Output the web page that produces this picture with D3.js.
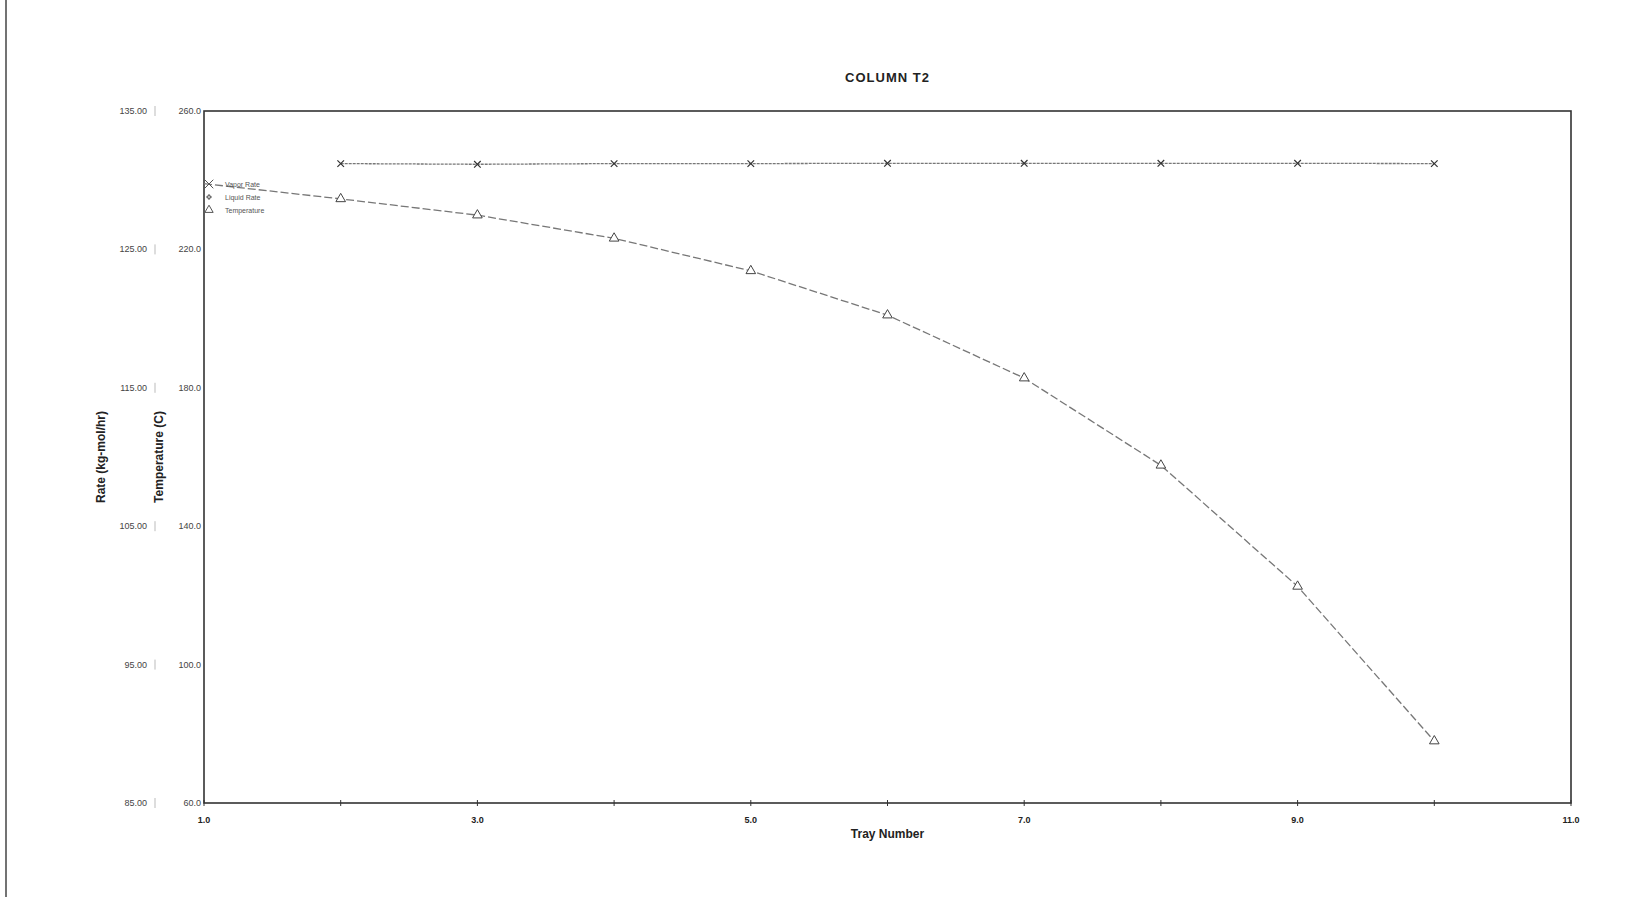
<!DOCTYPE html>
<html>
<head>
<meta charset="utf-8">
<script src="https://cdn.jsdelivr.net/npm/d3@7"></script>
<style>
  body { margin: 0; background: #fff; }
  text { font-family: "Liberation Sans", Arial, sans-serif; fill: #222; }
</style>
</head>
<body>
<div id="chart"></div>
<script>
var svgWidth = 1652;
var svgHeight = 897;

var margin = { top: 111, right: 81, bottom: 94, left: 204 };
var width = svgWidth - margin.left - margin.right;
var height = svgHeight - margin.top - margin.bottom;

// data
var trays = [1, 2, 3, 4, 5, 6, 7, 8, 9, 10];
var temperature = [239.0, 234.6, 229.9, 223.2, 213.8, 201.0, 182.8, 157.6, 122.6, 77.9];
var vaporTrays = [2, 3, 4, 5, 6, 7, 8, 9, 10];
var vaporRate = [131.2, 131.15, 131.2, 131.2, 131.22, 131.22, 131.22, 131.22, 131.2];
var xTickLabels = [1, 3, 5, 7, 9, 11];
var rateTicks = [85, 95, 105, 115, 125, 135];
var tempTicks = [60, 100, 140, 180, 220, 260];
var legendNames = ["Vapor Rate", "Liquid Rate", "Temperature"];

var svg = d3.select("#chart")
  .append("svg")
  .attr("width", svgWidth)
  .attr("height", svgHeight);

// page edge from the scan
svg.append("line")
  .attr("x1", 6).attr("x2", 6)
  .attr("y1", 0).attr("y2", svgHeight)
  .attr("stroke", "#444").attr("stroke-width", 1.5);

var chartGroup = svg.append("g")
  .attr("transform", `translate(${margin.left}, ${margin.top})`);

var xScale = d3.scaleLinear().domain([1, 11]).range([0, width]);
var rateScale = d3.scaleLinear().domain([85, 135]).range([height, 0]);
var tempScale = d3.scaleLinear().domain([60, 260]).range([height, 0]);

// plot frame
chartGroup.append("rect")
  .attr("width", width).attr("height", height)
  .attr("fill", "none").attr("stroke", "#333").attr("stroke-width", 1.6);

// x ticks: marks every tray, labels on odd
chartGroup.selectAll(".xtick")
  .data(d3.range(1, 12))
  .enter().append("line")
  .attr("x1", d => xScale(d)).attr("x2", d => xScale(d))
  .attr("y1", height - 3).attr("y2", height + 3)
  .attr("stroke", "#333");

chartGroup.selectAll(".xlab")
  .data(xTickLabels)
  .enter().append("text")
  .attr("x", d => xScale(d))
  .attr("y", height + 20)
  .attr("text-anchor", "middle")
  .style("font-size", "9px")
  .style("font-weight", "bold")
  .text(d => d.toFixed(1));

// left axes labels
chartGroup.selectAll(".rlab")
  .data(rateTicks)
  .enter().append("text")
  .attr("x", -57)
  .attr("y", d => rateScale(d) + 3)
  .attr("text-anchor", "end")
  .style("font-size", "9px")
  .style("fill", "#444")
  .text(d => d.toFixed(2));

chartGroup.selectAll(".rsep")
  .data(rateTicks)
  .enter().append("line")
  .attr("x1", -49).attr("x2", -49)
  .attr("y1", d => rateScale(d) - 5).attr("y2", d => rateScale(d) + 5)
  .attr("stroke", "#bbb");

chartGroup.selectAll(".tlab")
  .data(tempTicks)
  .enter().append("text")
  .attr("x", -3)
  .attr("y", d => tempScale(d) + 3)
  .attr("text-anchor", "end")
  .style("font-size", "9px")
  .style("fill", "#444")
  .text(d => d.toFixed(1));

// axis titles
chartGroup.append("text")
  .attr("transform", `translate(-99, ${height / 2}) rotate(-90)`)
  .attr("text-anchor", "middle")
  .style("font-size", "12px")
  .style("font-weight", "bold")
  .text("Rate (kg-mol/hr)");

chartGroup.append("text")
  .attr("transform", `translate(-41, ${height / 2}) rotate(-90)`)
  .attr("text-anchor", "middle")
  .style("font-size", "12px")
  .style("font-weight", "bold")
  .text("Temperature (C)");

chartGroup.append("text")
  .attr("x", width / 2)
  .attr("y", height + 35)
  .attr("text-anchor", "middle")
  .style("font-size", "12px")
  .style("font-weight", "bold")
  .text("Tray Number");

svg.append("text")
  .attr("x", margin.left + width / 2)
  .attr("y", 82)
  .attr("text-anchor", "middle")
  .style("font-size", "13px")
  .style("font-weight", "bold")
  .style("letter-spacing", "1px")
  .text("COLUMN T2");

// vapor rate line
var vaporData = vaporTrays.map((t, i) => ({ x: t, y: vaporRate[i] }));
chartGroup.append("path")
  .datum(vaporData)
  .attr("fill", "none")
  .attr("stroke", "#777")
  .attr("stroke-width", 1.3)
  .attr("stroke-dasharray", "3,1")
  .attr("d", d3.line().x(d => xScale(d.x)).y(d => rateScale(d.y)));

var cross = d3.symbol().type(d3.symbolX).size(30);
chartGroup.selectAll(".vpt")
  .data(vaporData)
  .enter().append("path")
  .attr("transform", d => `translate(${xScale(d.x)}, ${rateScale(d.y)})`)
  .attr("d", cross)
  .attr("fill", "none")
  .attr("stroke", "#333")
  .attr("stroke-width", 1.2);

// temperature line
var tempData = trays.map((t, i) => ({ x: t, y: temperature[i] }));
chartGroup.append("path")
  .datum(tempData)
  .attr("fill", "none")
  .attr("stroke", "#777")
  .attr("stroke-width", 1.3)
  .attr("stroke-dasharray", "8,3")
  .attr("d", d3.line().x(d => xScale(d.x)).y(d => tempScale(d.y)));

var tri = d3.symbol().type(d3.symbolTriangle).size(40);
chartGroup.selectAll(".tpt")
  .data(tempData.slice(1))
  .enter().append("path")
  .attr("transform", d => `translate(${xScale(d.x)}, ${tempScale(d.y)})`)
  .attr("d", tri)
  .attr("fill", "#fff")
  .attr("stroke", "#444")
  .attr("stroke-width", 1);

// legend
var legend = chartGroup.append("g").attr("transform", "translate(2, 73)");
var legendSymbols = [
  d3.symbol().type(d3.symbolX).size(50),
  d3.symbol().type(d3.symbolCross).size(10),
  d3.symbol().type(d3.symbolTriangle).size(30)
];
legendNames.forEach(function(name, i) {
  legend.append("path")
    .attr("transform", `translate(3, ${i * 13})`)
    .attr("d", legendSymbols[i])
    .attr("fill", i === 2 ? "#fff" : "none")
    .attr("stroke", "#555")
    .attr("stroke-width", 1);
  legend.append("text")
    .attr("x", 19)
    .attr("y", i * 13 + 2.5)
    .style("font-size", "7px")
    .style("fill", "#555")
    .text(name);
});
</script>
</body>
</html>
